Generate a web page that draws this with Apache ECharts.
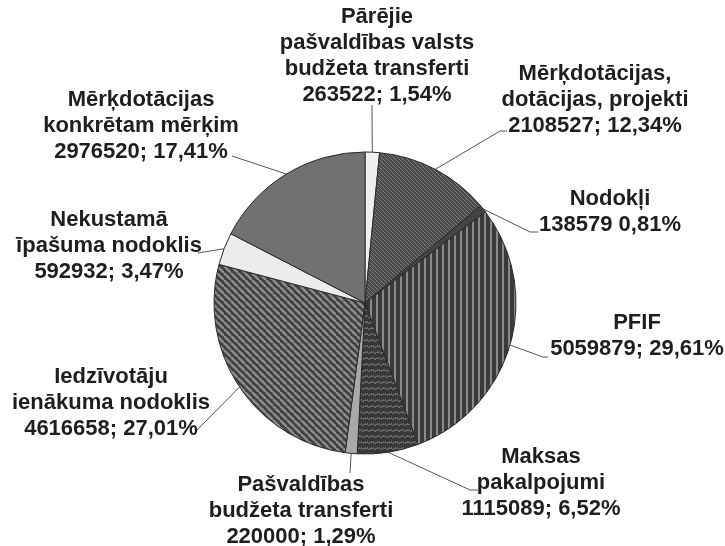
<!DOCTYPE html>
<html>
<head>
<meta charset="utf-8">
<script src="https://cdn.jsdelivr.net/npm/echarts@6/dist/echarts.min.js"></script>
<style>
html,body{margin:0;padding:0;background:#fff;}
#chart{width:725px;height:546px;}
</style>
</head>
<body>
<div id="chart"></div>
<script>
// ---- data ----
const categories = [
  'Pārējie\npašvaldības valsts\nbudžeta transferti',
  'Mērķdotācijas,\ndotācijas, projekti',
  'Nodokļi',
  'PFIF',
  'Maksas\npakalpojumi',
  'Pašvaldības\nbudžeta transferti',
  'Iedzīvotāju\nienākuma nodoklis',
  'Nekustamā\nīpašuma nodoklis',
  'Mērķdotācijas\nkonkrētam mērķim'
];
const values = [263522, 2108527, 138579, 5059879, 1115089, 220000, 4616658, 592932, 2976520];
const percentLabels = ['1,54', '12,34', '0,81', '29,61', '6,52', '1,29', '27,01', '3,47', '17,41'];
const separators = ['; ', '; ', ' ', '; ', '; ', '; ', '; ', '; ', '; '];

// ---- layout/styles ----
const labelCenters = [
  [377, 56], [595, 100], [610, 212], [637, 336], [541, 483],
  [301, 511], [111, 403], [109, 246], [141, 126]
];
// leader line ends near the labels: [bend, end]
const leaderEnds = [
  [[372, 105], [372, 105]],
  [[500, 131], [507, 131]],
  [[530, 232], [538, 232]],
  [[543, 357], [548, 357]],
  [[470, 490], [478, 490]],
  [[350, 473], [350, 473]],
  [[197, 430], [197, 430]],
  [[198, 253], [198, 253]],
  [[232, 156], [232, 156]]
];

function tile(size, draw) {
  const c = document.createElement('canvas');
  c.width = size; c.height = size;
  const ctx = c.getContext('2d');
  draw(ctx, size);
  return c;
}
function diagBack(bg, fg, s, w) { // "\" stripes
  return tile(s, (ctx) => {
    ctx.fillStyle = bg; ctx.fillRect(0, 0, s, s);
    ctx.strokeStyle = fg; ctx.lineWidth = w;
    for (const k of [-s, 0, s]) { ctx.beginPath(); ctx.moveTo(k, 0); ctx.lineTo(k + s, s); ctx.stroke(); }
  });
}
const patProjekti = tile(4, (ctx, s) => {
  ctx.fillStyle = '#4a4a4a'; ctx.fillRect(0, 0, s, s);
  ctx.fillStyle = '#7e7e7e';
  ctx.fillRect(0, 0, 1, 1); ctx.fillRect(1, 1, 1, 1); ctx.fillRect(2, 2, 1, 1); ctx.fillRect(3, 3, 1, 1);
});
const patPFIF = tile(6, (ctx, s) => {
  ctx.fillStyle = '#3a3a3a'; ctx.fillRect(0, 0, s, s);
  ctx.fillStyle = '#8a8a8a'; ctx.fillRect(4, 0, 2, s);
});
const patMaksas = tile(6, (ctx, s) => {
  ctx.fillStyle = '#383838'; ctx.fillRect(0, 0, s, s);
  ctx.fillStyle = '#6c6c6c';
  ctx.fillRect(0, 4, 2, 1); ctx.fillRect(2, 5, 2, 1); ctx.fillRect(4, 4, 2, 1);
  ctx.fillRect(1, 3, 1, 1); ctx.fillRect(3, 4, 1, 1); ctx.fillRect(5, 3, 1, 1);
});
const patIIN = diagBack('#404040', '#8e8e8e', 7, 2.4);

const fills = [
  '#efefef',
  {image: patProjekti, repeat: 'repeat'},
  '#444444',
  {image: patPFIF, repeat: 'repeat'},
  {image: patMaksas, repeat: 'repeat'},
  '#a9a9a9',
  {image: patIIN, repeat: 'repeat'},
  '#ececec',
  '#717171'
];

const chart = echarts.init(document.getElementById('chart'), null, {renderer: 'canvas'});
chart.setOption({
  backgroundColor: '#ffffff',
  animation: false,
  series: [{
    type: 'pie',
    center: [365, 303],
    radius: 151,
    startAngle: 90,
    clockwise: true,
    avoidLabelOverlap: false,
    data: categories.map((n, i) => ({
      name: n,
      value: values[i],
      itemStyle: {color: fills[i]}
    })),
    itemStyle: {borderColor: '#2a2a2a', borderWidth: 1},
    label: {
      show: true,
      position: 'outside',
      formatter: (p) => p.name + '\n' + values[p.dataIndex] + separators[p.dataIndex] + percentLabels[p.dataIndex] + '%',
      fontFamily: 'Liberation Sans, Arial, sans-serif',
      fontWeight: 'bold',
      fontSize: 22,
      lineHeight: 26,
      color: '#1e1e1e',
      align: 'center'
    },
    labelLine: {show: true, length: 10, length2: 10, lineStyle: {color: '#555', width: 1}},
    labelLayout: (params) => {
      const i = params.dataIndex;
      const out = {
        x: labelCenters[i][0],
        y: labelCenters[i][1],
        align: 'center',
        verticalAlign: 'middle'
      };
      if (params.labelLinePoints && params.labelLinePoints[0]) {
        out.labelLinePoints = [params.labelLinePoints[0].slice(), leaderEnds[i][0], leaderEnds[i][1]];
      }
      return out;
    },
    emphasis: {disabled: true}
  }]
});
</script>
</body>
</html>
